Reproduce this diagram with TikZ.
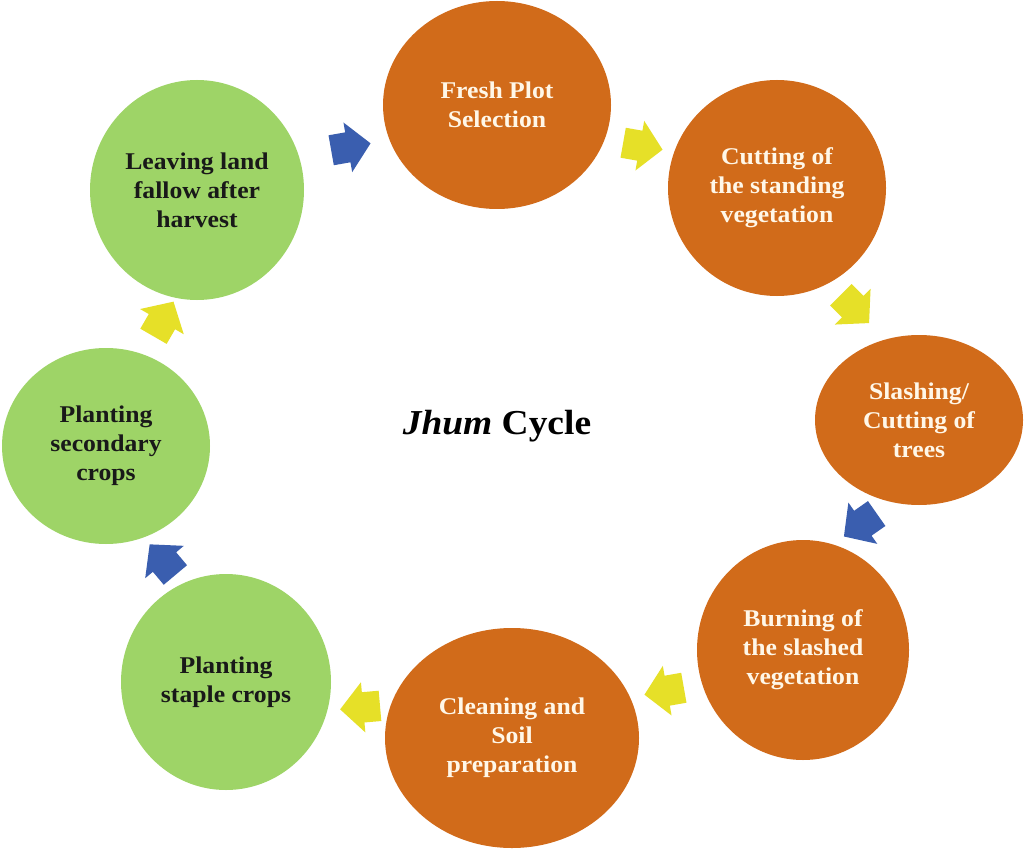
\documentclass[tikz,border=0pt]{standalone}
\usepackage{fontspec}
\setmainfont[FakeStretch=1.07]{Liberation Serif}
\usetikzlibrary{shapes.geometric,shapes.arrows}
\definecolor{jorange}{RGB}{209,107,26}
\definecolor{jgreen}{RGB}{158,212,103}
\definecolor{jyellow}{RGB}{230,224,40}
\definecolor{jblue}{RGB}{58,94,175}
\definecolor{jcream}{RGB}{255,247,232}
\tikzset{
  stage/.style={ellipse, inner sep=0pt, align=center,
    font=\fontsize{24}{29}\selectfont\bfseries},
  ostage/.style={stage, fill=jorange, text=jcream},
  gstage/.style={stage, fill=jgreen, text=black!90},
  blockarrow/.style={single arrow, draw=none, inner xsep=0pt, inner ysep=15pt,
    minimum height=40pt, single arrow head extend=10pt, single arrow tip angle=95},
  yarrow/.style={blockarrow, fill=jyellow},
  barrow/.style={blockarrow, fill=jblue}
}
\begin{document}
\begin{tikzpicture}[x=1pt,y=-1pt]
\useasboundingbox (0,0) rectangle (1024,850);
\fill[white] (0,0) rectangle (1024,850);
% stages
\node[ostage, minimum width=228pt, minimum height=208pt] (c1) at (497,105) {Fresh Plot\\Selection};
\node[ostage, minimum width=218pt, minimum height=216pt] (c2) at (777,188) {Cutting of\\the standing\\vegetation};
\node[ostage, minimum width=208pt, minimum height=170pt] (c3) at (919,420) {Slashing/\\Cutting of\\trees};
\node[ostage, minimum width=212pt, minimum height=220pt] (c4) at (803,650) {Burning of\\the slashed\\vegetation};
\node[ostage, minimum width=254pt, minimum height=220pt] (c5) at (512,738) {Cleaning and\\Soil\\preparation};
\node[gstage, minimum width=210pt, minimum height=216pt] (c6) at (226,682) {Planting\\staple crops};
\node[gstage, minimum width=208pt, minimum height=196pt] (c7) at (106,446) {Planting\\secondary\\crops};
\node[gstage, minimum width=214pt, minimum height=220pt] (c8) at (197,190) {Leaving land\\fallow after\\harvest};
% title
\node[font=\fontsize{35}{40}\selectfont\bfseries] (title) at (497,426) {\textit{Jhum} Cycle};
% arrows
\node[barrow, rotate=10]   (a1) at (344,148) {};
\node[yarrow, rotate=-10]  (a2) at (636,145) {};
\node[yarrow, rotate=-45]  (a3) at (850,304) {};
\node[barrow, rotate=215]  (a4) at (866,521) {};
\node[yarrow, rotate=190]  (a5) at (671,690) {};
\node[yarrow, rotate=185]  (a6) at (367,707) {};
\node[barrow, rotate=130]  (a7) at (167,565) {};
\node[yarrow, rotate=60]   (a8) at (160,325) {};
\end{tikzpicture}
\end{document}
